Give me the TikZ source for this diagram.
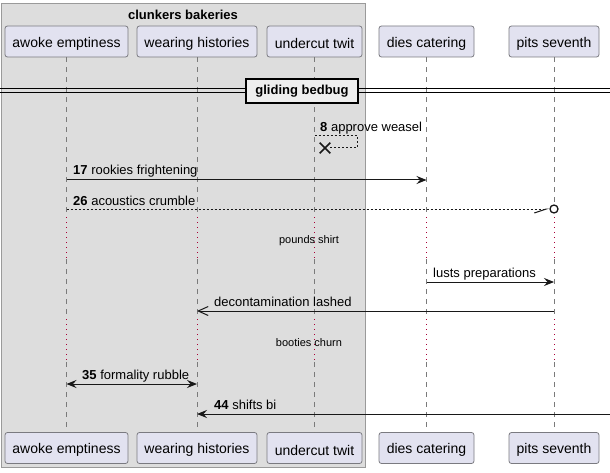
\documentclass[tikz,border=0pt]{standalone}
\usepackage{fontspec}
\setmainfont{Liberation Sans}
\usetikzlibrary{arrows.meta}
\usetikzlibrary{shapes.misc}
\definecolor{partfill}{HTML}{E2E2F0}
\definecolor{partline}{HTML}{7A7A80}
\definecolor{groupfill}{HTML}{DDDDDD}
\definecolor{groupline}{HTML}{9A9A9A}
\definecolor{lifegray}{HTML}{7A7A7A}
\definecolor{delayred}{HTML}{A80036}
\definecolor{divfill}{HTML}{EEEEEE}
\definecolor{msgline}{HTML}{181818}
\newcommand{\partlbl}[1]{\raisebox{-2pt}[\height][\depth]{#1}}

\begin{document}
\begin{tikzpicture}[x=1pt,y=-1pt,
	life/.style={lifegray,line width=1pt,dash pattern=on 5pt off 5pt},
	delay/.style={delayred,line width=1pt,dash pattern=on 1pt off 4pt},
	msg/.style={msgline,line width=1pt},
	msgdash/.style={msgline,line width=1pt,dash pattern=on 2pt off 2pt},
	lbl/.style={anchor=base west,inner sep=0pt,font=\fontsize{13}{15}\selectfont},
	>={Stealth[length=10pt,width=8pt,inset=3.5pt]}]
	\useasboundingbox (0,0) rectangle (610,473);
	\draw[groupline,fill=groupfill,line width=1pt] (1,4) rectangle (365,467);
	\node[font=\fontsize{13}{15}\selectfont\bfseries] (grp) at (183,14.5) {clunkers bakeries};

	\begin{scope}[every node/.style={draw=partline,fill=partfill,line width=0.8pt,rounded corners=2.5pt,
	              minimum height=31pt,inner xsep=0pt,font=\fontsize{14}{16}\selectfont}]
		\node[minimum width=123pt] (ae) at (66.5,41.5) {\partlbl{awoke emptiness}};
		\node[minimum width=120pt] (wh) at (197,41.5) {\partlbl{wearing histories}};
		\node[minimum width=95pt] (ut) at (314.5,41.5) {\partlbl{undercut twit}};
		\node[minimum width=95pt] (dc) at (426.5,41.5) {\partlbl{dies catering}};
		\node[minimum width=90pt] (ps) at (554,41.5) {\partlbl{pits seventh}};

		\node[minimum width=123pt] (ae2) at (66.5,448) {\partlbl{awoke emptiness}};
		\node[minimum width=120pt] (wh2) at (197,448) {\partlbl{wearing histories}};
		\node[minimum width=95pt] (ut2) at (314.5,448) {\partlbl{undercut twit}};
		\node[minimum width=95pt] (dc2) at (426.5,448) {\partlbl{dies catering}};
		\node[minimum width=90pt] (ps2) at (554,448) {\partlbl{pits seventh}};
	\end{scope}

	\foreach \p in {ae,wh,ut,dc,ps} {
		\draw[life] (\p.south) -- (\p |- 0,217);
		\draw[delay] (\p |- 0,217) -- (\p |- 0,259);
		\draw[life] (\p |- 0,259) -- (\p |- 0,319);
		\draw[delay] (\p |- 0,319) -- (\p |- 0,362);
		\draw[life] (\p |- 0,362) -- (\p2.north);
	}

	\draw[black,line width=1pt] (0,89) -- (610,89);
	\draw[black,line width=1pt] (0,93) -- (610,93);
	\node[draw=black,line width=2pt,fill=divfill,minimum width=112pt,minimum height=24pt,inner sep=0pt,
	      font=\fontsize{13}{15}\selectfont\bfseries] (div) at (302,91) {gliding bedbug};

	\coordinate (m8) at (314.5,136);
	\node[cross out,draw=msgline,line width=1.6pt,minimum size=9pt,inner sep=0pt] (x8) at (325,148) {};
	\draw[msgdash] (m8) -- ++(42.5,0) |- (x8.east);
	\node[lbl] (t8) at (320,131.5) {\textbf{8} approve weasel};

	\draw[msg,->] (ae |- 0,180) -- (dc |- 0,180);
	\node[lbl] (t17) at (73,174.5) {\textbf{17} rookies frightening};

	\node[circle,draw=msgline,line width=1.3pt,fill=white,minimum size=8pt,inner sep=0pt] (o26) at (ps |- 0,209) {};
	\draw[msgdash,-{Straight Barb[harpoon,swap,length=12pt,width=8pt,line width=1pt]}] (ae |- 0,209) -- (o26.west);
	\node[lbl] (t26) at (73,205.5) {\textbf{26} acoustics crumble};

	\node[font=\fontsize{11}{13}\selectfont] (d1) at (309,240.5) {pounds shirt};

	\draw[msg,->] (dc |- 0,282) -- (ps |- 0,282);
	\node[lbl] (t30) at (433,277.5) {lusts preparations};

	\draw[msg,-{Straight Barb[length=10pt,width=9pt]}] (ps |- 0,311) -- (wh |- 0,311);
	\node[lbl] (t32) at (214,306.5) {decontamination lashed};

	\node[font=\fontsize{11}{13}\selectfont] (d2) at (309,342.5) {booties churn};

	\draw[msg,<->] (ae |- 0,384) -- (wh |- 0,384);
	\node[lbl] (t35) at (82,379.5) {\textbf{35} formality rubble};

	\coordinate (r44) at (610,414);
	\draw[msg,->] (r44) -- (wh |- 0,414);
	\node[lbl] (t44) at (214,409.5) {\textbf{44} shifts bi};
\end{tikzpicture}
\end{document}
